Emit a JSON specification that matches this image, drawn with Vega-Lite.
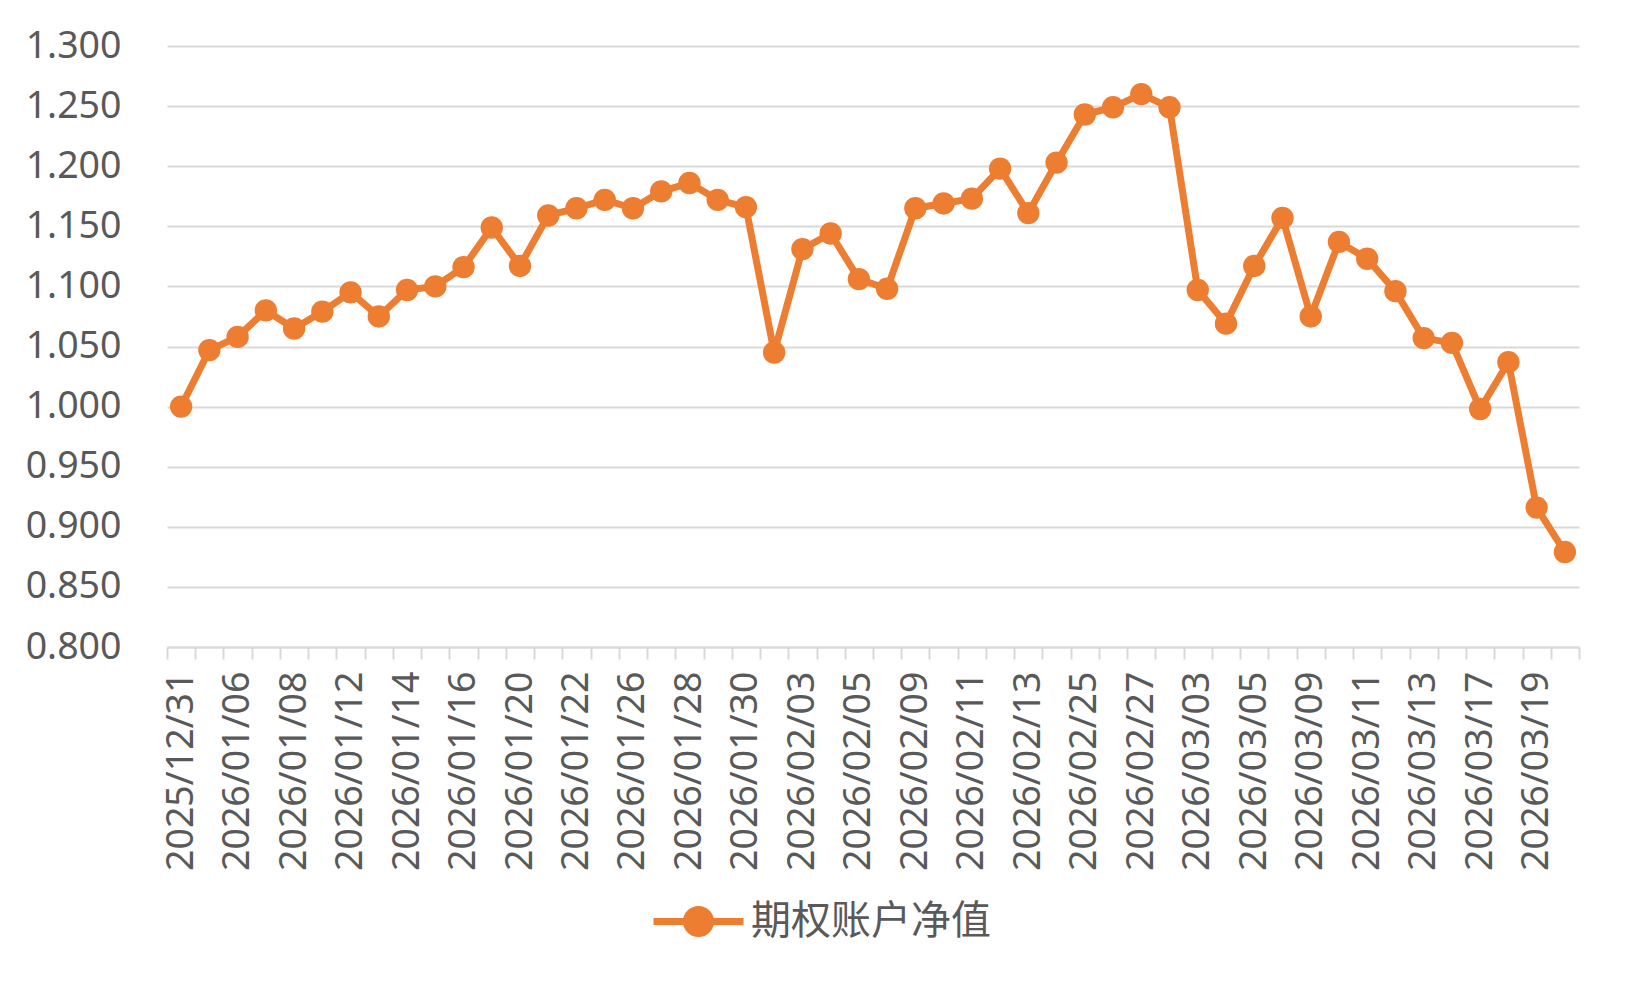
{
  "$schema": "https://vega.github.io/schema/vega-lite/v6.json",
  "width": 1412,
  "height": 601,
  "autosize": {"type": "none"},
  "padding": {"left": 167, "top": 46, "right": 56, "bottom": 343},
  "background": "white",
  "config": {"view": {"stroke": null}, "font": "Noto Sans"},
  "data": {
    "values": [
      {"date": "2025/12/31", "value": 1.000},
      {"date": "2026/01/05", "value": 1.047},
      {"date": "2026/01/06", "value": 1.058},
      {"date": "2026/01/07", "value": 1.080},
      {"date": "2026/01/08", "value": 1.065},
      {"date": "2026/01/09", "value": 1.079},
      {"date": "2026/01/12", "value": 1.095},
      {"date": "2026/01/13", "value": 1.075},
      {"date": "2026/01/14", "value": 1.097},
      {"date": "2026/01/15", "value": 1.100},
      {"date": "2026/01/16", "value": 1.116},
      {"date": "2026/01/19", "value": 1.149},
      {"date": "2026/01/20", "value": 1.117},
      {"date": "2026/01/21", "value": 1.159},
      {"date": "2026/01/22", "value": 1.165},
      {"date": "2026/01/23", "value": 1.172},
      {"date": "2026/01/26", "value": 1.165},
      {"date": "2026/01/27", "value": 1.179},
      {"date": "2026/01/28", "value": 1.186},
      {"date": "2026/01/29", "value": 1.172},
      {"date": "2026/01/30", "value": 1.166},
      {"date": "2026/02/02", "value": 1.045},
      {"date": "2026/02/03", "value": 1.131},
      {"date": "2026/02/04", "value": 1.144},
      {"date": "2026/02/05", "value": 1.106},
      {"date": "2026/02/06", "value": 1.098},
      {"date": "2026/02/09", "value": 1.165},
      {"date": "2026/02/10", "value": 1.169},
      {"date": "2026/02/11", "value": 1.173},
      {"date": "2026/02/12", "value": 1.198},
      {"date": "2026/02/13", "value": 1.161},
      {"date": "2026/02/24", "value": 1.203},
      {"date": "2026/02/25", "value": 1.243},
      {"date": "2026/02/26", "value": 1.249},
      {"date": "2026/02/27", "value": 1.260},
      {"date": "2026/03/02", "value": 1.249},
      {"date": "2026/03/03", "value": 1.097},
      {"date": "2026/03/04", "value": 1.069},
      {"date": "2026/03/05", "value": 1.117},
      {"date": "2026/03/06", "value": 1.157},
      {"date": "2026/03/09", "value": 1.075},
      {"date": "2026/03/10", "value": 1.137},
      {"date": "2026/03/11", "value": 1.123},
      {"date": "2026/03/12", "value": 1.096},
      {"date": "2026/03/13", "value": 1.057},
      {"date": "2026/03/16", "value": 1.053},
      {"date": "2026/03/17", "value": 0.998},
      {"date": "2026/03/18", "value": 1.037},
      {"date": "2026/03/19", "value": 0.916},
      {"date": "2026/03/20", "value": 0.879}
    ]
  },
  "encoding": {
    "x": {
      "field": "date",
      "type": "ordinal",
      "sort": null,
      "scale": {"type": "band", "paddingInner": 0, "paddingOuter": 0},
      "axis": {
        "title": null,
        "labelAngle": -90,
        "labelAlign": "right",
        "labelBaseline": "middle",
        "labelFontSize": 37.5,
        "labelFont": "Noto Sans",
        "labelColor": "#595959",
        "labelLimit": 0,
        "labelExpr": "indexof(domain('x'), datum.value) % 2 === 0 ? datum.label : ''",
        "labelOverlap": false,
        "tickBand": "extent",
        "tickColor": "#d9d9d9",
        "tickSize": 12,
        "tickWidth": 2,
        "domainColor": "#d9d9d9",
        "domainWidth": 2,
        "labelPadding": 12,
        "grid": false
      }
    },
    "y": {
      "field": "value",
      "type": "quantitative",
      "scale": {"domain": [0.8, 1.3], "zero": false, "nice": false},
      "axis": {
        "title": null,
        "values": [0.8, 0.85, 0.9, 0.95, 1.0, 1.05, 1.1, 1.15, 1.2, 1.25, 1.3],
        "format": ".3f",
        "labelFontSize": 37.5,
        "labelFont": "Noto Sans",
        "labelColor": "#595959",
        "ticks": false,
        "domain": false,
        "gridColor": "#d9d9d9",
        "gridWidth": 2,
        "labelPadding": 46
      }
    },
    "color": {
      "datum": "期权账户净值",
      "type": "nominal",
      "scale": {"range": ["#ED7D31"]},
      "legend": {
        "orient": "none",
        "legendX": 483,
        "legendY": 827,
        "title": null,
        "labelFontSize": 40,
        "labelFont": "Noto Sans CJK SC",
        "labelColor": "#595959",
        "labelLimit": 0,
        "labelOffset": 4,
        "symbolSize": 8100,
        "symbolType": "M-1,0L1,0M0.267,0A0.267,0.267,0,1,1,-0.267,0A0.267,0.267,0,1,1,0.267,0Z",
        "symbolStrokeWidth": 7,
        "symbolFillColor": "#ED7D31",
        "symbolStrokeColor": "#ED7D31",
        "symbolOpacity": 1,
        "symbolLimit": 1
      }
    }
  },
  "layer": [
    {"mark": {"type": "line", "strokeWidth": 7, "strokeJoin": "round", "strokeCap": "round"}},
    {"mark": {"type": "point", "filled": true, "size": 500, "opacity": 1}}
  ]
}
